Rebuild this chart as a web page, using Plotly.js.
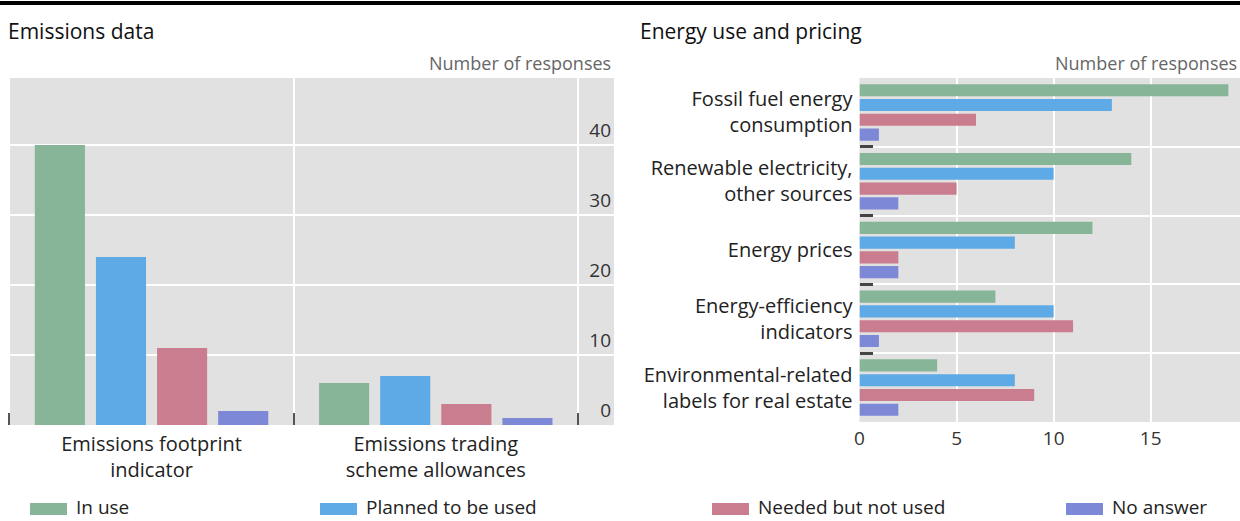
<!DOCTYPE html>
<html>
<head>
<meta charset="utf-8">
<script src="https://cdn.plot.ly/plotly-3.0.1.min.js"></script>
<style>html,body{margin:0;padding:0;background:#fff;}#chart{width:1240px;height:521px;}</style>
</head>
<body>
<div id="chart"></div>
<script>
// ---- Data ----
const seriesNames = ["In use", "Planned to be used", "Needed but not used", "No answer"];
const seriesColors = ["#87b597", "#5eaae6", "#c97d8f", "#7d88d6"];

const emissionsCategories = ["Emissions footprint<br>indicator", "Emissions trading<br>scheme allowances"];
const emissionsInUse = [40, 6];
const emissionsPlanned = [24, 7];
const emissionsNeeded = [11, 3];
const emissionsNoAnswer = [2, 1];

const energyCategories = ["Fossil fuel energy<br>consumption", "Renewable electricity,<br>other sources", "Energy prices", "Energy-efficiency<br>indicators", "Environmental-related<br>labels for real estate"];
const energyInUse = [19, 14, 12, 7, 4];
const energyPlanned = [13, 10, 8, 10, 8];
const energyNeeded = [6, 5, 2, 11, 9];
const energyNoAnswer = [1, 2, 2, 1, 2];

const leftTitle = "Emissions data";
const rightTitle = "Energy use and pricing";
const unitLabel = "Number of responses";

// ---- Layout helpers (pixel -> paper) ----
const W = 1240, H = 521;
const px = x => x / W;
const py = y => 1 - y / H;
const FONT = "Open Sans, Noto Sans, sans-serif";

const emissionsSeries = [emissionsInUse, emissionsPlanned, emissionsNeeded, emissionsNoAnswer];
const energySeries = [energyInUse, energyPlanned, energyNeeded, energyNoAnswer];

const traces = [];
emissionsSeries.forEach((vals, i) => {
  traces.push({
    type: "bar", x: emissionsCategories, y: vals, name: seriesNames[i],
    marker: {color: seriesColors[i]}, xaxis: "x", yaxis: "y", showlegend: false,
    hoverinfo: "y"
  });
});
energySeries.forEach((vals, i) => {
  traces.push({
    type: "bar", orientation: "h", y: energyCategories, x: vals, name: seriesNames[i],
    marker: {color: seriesColors[i]}, xaxis: "x2", yaxis: "y2", showlegend: false,
    hoverinfo: "x"
  });
});

const shapes = [
  {type: "rect", xref: "paper", yref: "paper", x0: 0, x1: 1, y0: py(5), y1: py(1),
   fillcolor: "#000", line: {width: 0}}
];
const annotations = [
  {text: leftTitle, xref: "paper", yref: "paper", x: px(6), y: py(31), xanchor: "left", yanchor: "middle",
   showarrow: false, font: {family: FONT, size: 21, color: "#111"}},
  {text: rightTitle, xref: "paper", yref: "paper", x: px(638), y: py(31), xanchor: "left", yanchor: "middle",
   showarrow: false, font: {family: FONT, size: 21, color: "#111"}},
  {text: unitLabel, xref: "paper", yref: "paper", x: px(613), y: py(63), xanchor: "right", yanchor: "middle",
   showarrow: false, font: {family: FONT, size: 18, color: "#666"}},
  {text: unitLabel, xref: "paper", yref: "paper", x: px(1239), y: py(63), xanchor: "right", yanchor: "middle",
   showarrow: false, font: {family: FONT, size: 18, color: "#666"}}
];

// custom legend
const legendX = [30, 320, 712, 1066];
seriesNames.forEach((n, i) => {
  shapes.push({type: "rect", xref: "paper", yref: "paper",
    x0: px(legendX[i]), x1: px(legendX[i] + 37), y0: py(515), y1: py(503),
    fillcolor: seriesColors[i], line: {width: 0}});
  annotations.push({text: n, xref: "paper", yref: "paper", x: px(legendX[i] + 44), y: py(507),
    xanchor: "left", yanchor: "middle", showarrow: false,
    font: {family: FONT, size: 19, color: "#222"}});
});

const layout = {
  width: W, height: H,
  margin: {l: 0, r: 0, t: 0, b: 0, pad: 0},
  paper_bgcolor: "#fff", plot_bgcolor: "#e1e1e1",
  barmode: "group", bargap: 0.14, bargroupgap: 0.18,
  font: {family: FONT, color: "#222"},
  showlegend: false,
  xaxis: {
    domain: [px(8), px(614)], anchor: "y", type: "category",
    categoryorder: "array", categoryarray: emissionsCategories,
    range: [-0.505, 1.627], tickson: "boundaries", ticks: "inside", ticklen: 12, tickwidth: 2,
    tickcolor: "#555", showgrid: true, gridcolor: "#fff", gridwidth: 2, zeroline: false,
    showline: false, ticklabelstandoff: 5,
    tickfont: {family: FONT, size: 20, color: "#222"}, fixedrange: true
  },
  yaxis: {
    domain: [py(425), py(78)], anchor: "x", side: "right", range: [0, 49.57], dtick: 10,
    ticklabelposition: "inside", ticklabelshift: -15, ticks: "", showgrid: true, gridcolor: "#fff",
    gridwidth: 2, zeroline: false, showline: false,
    tickfont: {family: FONT, size: 19, color: "#333"}, fixedrange: true
  },
  xaxis2: {
    domain: [px(859.5), 1], anchor: "y2", range: [0, 19.6], dtick: 5, ticks: "",
    showgrid: true, gridcolor: "#fff", gridwidth: 2, zeroline: false, showline: false,
    ticklabelstandoff: 3,
    tickfont: {family: FONT, size: 19, color: "#333"}, fixedrange: true
  },
  yaxis2: {
    domain: [py(422), py(78)], anchor: "x2", type: "category",
    categoryorder: "array", categoryarray: energyCategories,
    range: [4.5, -0.5], tickson: "boundaries", ticks: "inside", ticklen: 13, tickwidth: 3,
    tickcolor: "#444", showgrid: true, gridcolor: "#fff", gridwidth: 2, zeroline: false,
    showline: false, ticklabelstandoff: 6,
    tickfont: {family: FONT, size: 20, color: "#222"}, fixedrange: true
  },
  shapes: shapes,
  annotations: annotations
};

Plotly.newPlot("chart", traces, layout, {displayModeBar: false, staticPlot: true});
</script>
</body>
</html>
